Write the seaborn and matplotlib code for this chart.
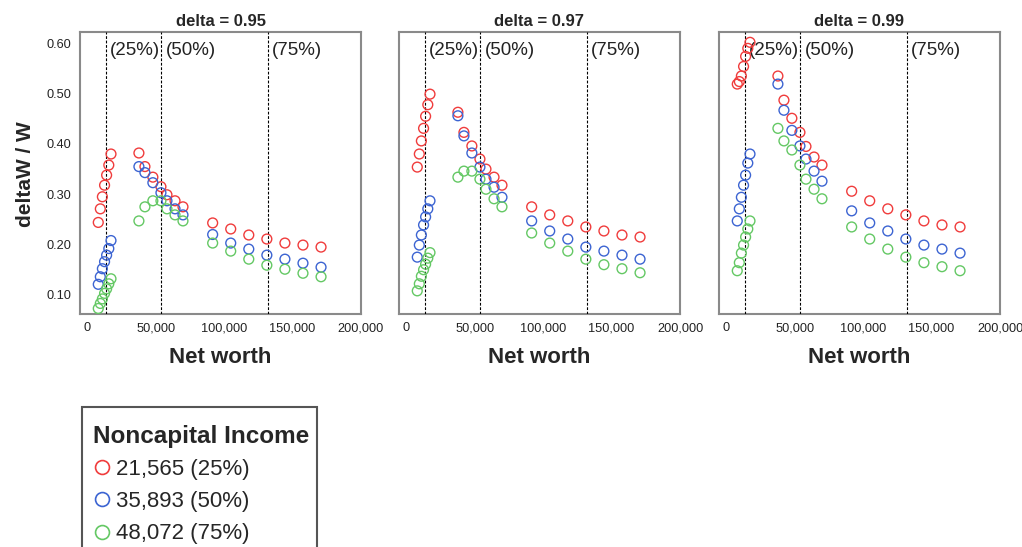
import matplotlib
matplotlib.use("Agg")
import numpy as np
import pandas as pd
import seaborn as sns
import matplotlib.pyplot as plt
from matplotlib.patches import Rectangle
from matplotlib.lines import Line2D
from matplotlib import transforms
from matplotlib.ticker import FuncFormatter

sns.set_style("white")
plt.rcParams["font.family"] = ["Liberation Sans", "DejaVu Sans"]

# ---- data -------------------------------------------------------------
deltas = [0.95, 0.97, 0.99]
income_labels = ["21,565 (25%)", "35,893 (50%)", "48,072 (75%)"]
income_colors = ["#f03c3c", "#3c64d2", "#64c864"]
quartile_nw = [13400, 54200, 131700]
quartile_labels = ["(25%)", "(50%)", "(75%)"]

net_worth = [8000, 9500, 11000, 12600, 14100, 15700, 17300,
             37700, 42100, 47900, 53800, 58200, 64100, 69900,
             91600, 104800, 118000, 131200, 144400, 157600, 170800]

d95_low = [0.244, 0.271, 0.295, 0.318, 0.338, 0.358, 0.380, 0.382, 0.355, 0.334, 0.315,
           0.299, 0.287, 0.275, 0.243, 0.231, 0.219, 0.211, 0.203, 0.199, 0.195]
d95_mid = [0.121, 0.136, 0.152, 0.166, 0.179, 0.192, 0.208, 0.355, 0.343, 0.323, 0.303,
           0.287, 0.271, 0.259, 0.220, 0.203, 0.191, 0.179, 0.171, 0.163, 0.155]
d95_high = [0.073, 0.083, 0.092, 0.103, 0.112, 0.122, 0.132, 0.247, 0.275, 0.287, 0.287,
            0.271, 0.259, 0.247, 0.203, 0.187, 0.171, 0.159, 0.151, 0.143, 0.136]

d97_low = [0.354, 0.380, 0.406, 0.431, 0.455, 0.478, 0.499, 0.463, 0.423, 0.396, 0.370,
           0.350, 0.334, 0.318, 0.275, 0.259, 0.247, 0.235, 0.227, 0.219, 0.215]
d97_mid = [0.175, 0.199, 0.219, 0.239, 0.255, 0.271, 0.287, 0.456, 0.416, 0.382, 0.354,
           0.330, 0.314, 0.294, 0.247, 0.227, 0.211, 0.195, 0.187, 0.179, 0.171]
d97_high = [0.108, 0.122, 0.137, 0.150, 0.161, 0.173, 0.184, 0.334, 0.346, 0.346, 0.330,
            0.310, 0.291, 0.275, 0.223, 0.203, 0.187, 0.171, 0.160, 0.152, 0.144]

d99_low = [0.519, 0.524, 0.535, 0.554, 0.574, 0.590, 0.602, 0.535, 0.487, 0.451, 0.423,
           0.395, 0.374, 0.358, 0.306, 0.287, 0.271, 0.259, 0.247, 0.239, 0.235]
d99_mid = [0.247, 0.271, 0.294, 0.318, 0.338, 0.362, 0.380, 0.519, 0.467, 0.427, 0.396,
           0.370, 0.346, 0.326, 0.267, 0.243, 0.227, 0.211, 0.199, 0.191, 0.183]
d99_high = [0.148, 0.164, 0.183, 0.199, 0.215, 0.231, 0.247, 0.431, 0.406, 0.388, 0.358,
            0.330, 0.310, 0.291, 0.235, 0.211, 0.191, 0.175, 0.164, 0.156, 0.148]

panel_series = {
    0.95: [d95_low, d95_mid, d95_high],
    0.97: [d97_low, d97_mid, d97_high],
    0.99: [d99_low, d99_mid, d99_high],
}

y_ticks = [0.10, 0.20, 0.30, 0.40, 0.50, 0.60]
x_ticks = [0, 50000, 100000, 150000, 200000]

# ---- figure -------------------------------------------------------------
W, H = 1022, 547
fig = plt.figure(figsize=(W / 100, H / 100), dpi=100)

ax_left = [80, 399, 719]
ax_top, ax_bottom, ax_width = 32, 314, 281

for i, d in enumerate(deltas):
    ax = fig.add_axes([ax_left[i] / W, 1 - ax_bottom / H,
                       ax_width / W, (ax_bottom - ax_top) / H])
    frames = []
    for lab, vals in zip(income_labels, panel_series[d]):
        frames.append(pd.DataFrame({"net_worth": net_worth, "ratio": vals, "income": lab}))
    df = pd.concat(frames, ignore_index=True)

    sns.scatterplot(data=df, x="net_worth", y="ratio", hue="income",
                    hue_order=income_labels, palette=income_colors,
                    s=50, linewidth=1.0, legend=False, ax=ax, zorder=4)
    coll = ax.collections[0]
    coll.set_edgecolors(coll.get_facecolors())
    coll.set_facecolors("none")

    lab_tr = transforms.offset_copy(
        transforms.blended_transform_factory(ax.transData, ax.transAxes),
        fig=fig, x=4, y=0, units="dots")
    for q, ql in zip(quartile_nw, quartile_labels):
        ax.axvline(q, color="black", lw=0.8, ls=(0, (2.5, 1.5)), zorder=3)
        ax.text(q, 0.936, ql, transform=lab_tr, ha="left", va="center",
                fontsize=13.5, color="#222222")

    ax.set_xlim(-5350, 200000)
    ax.set_ylim(0.062, 0.6225)
    ax.set_xticks(x_ticks)
    ax.set_yticks(y_ticks)
    ax.xaxis.set_major_formatter(FuncFormatter(lambda v, p: f"{int(v):,}"))
    ax.yaxis.set_major_formatter(FuncFormatter(lambda v, p: f"{v:.2f}"))
    ax.tick_params(direction="out", length=4, width=3.6, color="black",
                   labelsize=9.2, pad=2, labelcolor="#222222")
    if i > 0:
        ax.tick_params(axis="y", labelleft=False)
    for sp in ax.spines.values():
        sp.set_color("#8a8a8a")
        sp.set_linewidth(1.5)

    ax.set_title(f"delta = {d}", fontweight="bold", fontsize=12, pad=4)
    ax.set_xlabel("Net worth", fontweight="bold", fontsize=16, labelpad=9)
    ax.set_ylabel("")

fig.text(26 / W, 1 - 174 / H, "deltaW / W", rotation=90, ha="center",
         va="center", fontweight="bold", fontsize=15)

# legend box, running past the bottom edge
fig.add_artist(Rectangle((81.7 / W, -0.05), (317 - 81.7) / W, 1 - 406.7 / H + 0.05,
                         transform=fig.transFigure, fill=False,
                         edgecolor="#555555", lw=1.5))
handles = [Line2D([], [], ls="none", marker="o", markersize=10, markerfacecolor="none",
                  markeredgecolor=c, markeredgewidth=1.2) for c in income_colors]
fig.legend(handles, income_labels, title="Noncapital Income",
           loc="upper left", bbox_to_anchor=(93 / W, 1 - 425 / H),
           frameon=False, alignment="left", fontsize=16,
           title_fontproperties={"weight": "bold", "size": 17.5},
           handletextpad=0.25, handlelength=0.8, labelspacing=0.5,
           borderaxespad=0, borderpad=0)

fig.savefig("out.png", dpi=100)
